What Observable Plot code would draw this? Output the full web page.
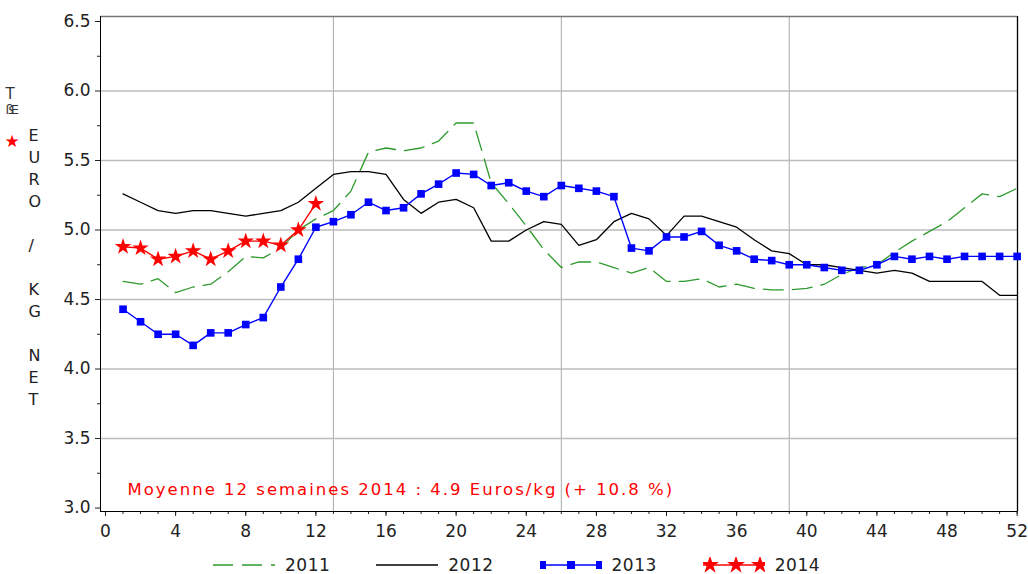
<!DOCTYPE html>
<html><head><meta charset="utf-8">
<script src="https://cdn.jsdelivr.net/npm/d3@7"></script>
<script src="https://cdn.jsdelivr.net/npm/@observablehq/plot@0.6"></script>
<style>
body{margin:0;background:#fff;font-family:"DejaVu Sans",sans-serif;}
#wrap{position:relative;width:1028px;height:574px;overflow:hidden;}
#legend{display:flex;align-items:center;height:29px;padding-top:5px;padding-left:213px;font-size:17px;color:#222;}
#legend .item{display:flex;align-items:center;margin-right:46px;}
#legend .lab{margin-left:10px;letter-spacing:0.5px;}
</style></head>
<body><div id="wrap"><div id="chart"></div><div id="legend"></div></div>
<script>
// ---- data ----
const weeks = [1,2,3,4,5,6,7,8,9,10,11,12,13,14,15,16,17,18,19,20,21,22,23,24,25,26,27,28,29,30,31,32,33,34,35,36,37,38,39,40,41,42,43,44,45,46,47,48,49,50,51,52];
const years = ["2011","2012","2013","2014"];
const v2011 = [4.63,4.61,4.65,4.55,4.59,4.61,4.70,4.81,4.80,4.87,5.00,5.08,5.14,5.28,5.56,5.59,5.57,5.59,5.64,5.77,5.77,5.34,5.19,5.03,4.86,4.73,4.77,4.77,4.73,4.69,4.73,4.63,4.63,4.65,4.59,4.61,4.58,4.57,4.57,4.58,4.61,4.68,4.73,4.75,4.84,4.92,4.99,5.06,5.16,5.26,5.24,5.30];
const v2012 = [5.26,5.20,5.14,5.12,5.14,5.14,5.12,5.10,5.12,5.14,5.20,5.30,5.40,5.42,5.42,5.40,5.22,5.12,5.20,5.22,5.16,4.92,4.92,5.00,5.06,5.04,4.89,4.93,5.06,5.12,5.08,4.96,5.10,5.10,5.06,5.02,4.93,4.85,4.83,4.75,4.75,4.73,4.71,4.69,4.71,4.69,4.63,4.63,4.63,4.63,4.53,4.53];
const v2013 = [4.43,4.34,4.25,4.25,4.17,4.26,4.26,4.32,4.37,4.59,4.79,5.02,5.06,5.11,5.20,5.14,5.16,5.26,5.33,5.41,5.40,5.32,5.34,5.28,5.24,5.32,5.30,5.28,5.24,4.87,4.85,4.95,4.95,4.99,4.89,4.85,4.79,4.78,4.75,4.75,4.73,4.71,4.71,4.75,4.81,4.79,4.81,4.79,4.81,4.81,4.81,4.81];
const v2014 = [4.88,4.87,4.79,4.81,4.85,4.79,4.85,4.92,4.92,4.89,5.00,5.19];
const xTicks = [0,4,8,12,16,20,24,28,32,36,40,44,48,52];
const xMinorTicks = [0,1,2,3,4,5,6,7,8,9,10,11,12,13,14,15,16,17,18,19,20,21,22,23,24,25,26,27,28,29,30,31,32,33,34,35,36,37,38,39,40,41,42,43,44,45,46,47,48,49,50,51,52];
const yTicks = [3.0,3.5,4.0,4.5,5.0,5.5,6.0,6.5];
const yMinorTicks = [3.25,3.75,4.25,4.75,5.25,5.75,6.25];
const xGrid = [13,26,39];
const yGrid = [3.5,4.0,4.5,5.0,5.5,6.0];
const yTitle = "E\nU\nR\nO\n \n/\n \nK\nG\n \nN\nE\nT";
const note = "Moyenne 12 semaines 2014 : 4.9 Euros/kg (+ 10.8 %)";

const colors = {"2011":"#2e9a2e","2012":"#000000","2013":"#0000ff","2014":"#ff0000"};
const toRows = (vals, year) => vals.map((v,i) => ({week: weeks[i], value: v, year}));
const r2011 = toRows(v2011,"2011"), r2012 = toRows(v2012,"2012"), r2013 = toRows(v2013,"2013"), r2014 = toRows(v2014,"2014");

const xDom = [-0.285, 52.02], yDom = [2.975, 6.536];

const chart = Plot.plot({
  width: 1028, height: 545,
  marginLeft: 100, marginRight: 11, marginTop: 16, marginBottom: 34,
  x: {domain: xDom},
  y: {domain: yDom},
  style: {fontFamily: "DejaVu Sans, sans-serif", fontSize: "17px", color: "#222", background: "#fff"},
  marks: [
    Plot.gridX(xGrid, {stroke: "#aaa", strokeOpacity: 1, strokeWidth: 1}),
    Plot.gridY(yGrid, {stroke: "#bbb", strokeOpacity: 1, strokeWidth: 1.4}),
    Plot.axisY(yMinorTicks, {tickSize: 3, tickFormat: () => "", label: null, stroke: "#222"}),
    Plot.axisY(yTicks, {tickSize: 5, tickPadding: 5, tickFormat: d => d.toFixed(1), label: null, stroke: "#222", fill: "#222"}),
    Plot.axisX(xMinorTicks, {tickSize: 3, tickFormat: () => "", label: null, stroke: "#222"}),
    Plot.axisX(xTicks, {tickSize: 5, tickPadding: 8, label: null, stroke: "#222", fill: "#222"}),
    Plot.ruleY([yDom[1]], {stroke: "#777", strokeWidth: 1.5}),
    Plot.ruleX([xDom[0]], {stroke: "#000"}),
    Plot.ruleX([xDom[1]], {stroke: "#000", strokeWidth: 1.3}),
    Plot.ruleY([yDom[0]], {stroke: "#000"}),
    Plot.line(r2011, {x: "week", y: "value", stroke: colors["2011"], strokeWidth: 1.3, strokeDasharray: "20,9"}),
    Plot.line(r2012, {x: "week", y: "value", stroke: colors["2012"], strokeWidth: 1.3}),
    Plot.line(r2013, {x: "week", y: "value", stroke: colors["2013"], strokeWidth: 1.4}),
    Plot.dot(r2013, {x: "week", y: "value", symbol: "square", fill: colors["2013"], r: 4.3}),
    Plot.line(r2014, {x: "week", y: "value", stroke: colors["2014"], strokeWidth: 1.4}),
    Plot.dot(r2014, {x: "week", y: "value", symbol: "star", fill: colors["2014"], r: 5.2}),
    Plot.text([note], {frameAnchor: "bottom-left", textAnchor: "start", dx: 27, dy: -17, fill: "#ff0000", fontSize: 16.5}),
    Plot.text([yTitle], {frameAnchor: "left", dx: -72, dy: 1.5, fontSize: 16, lineHeight: 1.375, fill: "#222"}),
    Plot.text(["T"], {frameAnchor: "top-left", dx: -95, dy: 72, fontSize: 15, fill: "#333"}),
    Plot.text(["ßE"], {frameAnchor: "top-left", dx: -95, dy: 88, fontSize: 13, fill: "#333"}),
    Plot.text(["★"], {frameAnchor: "top-left", dx: -96, dy: 118, fontSize: 17, fill: "#ff0000"})
  ]
});
document.getElementById("chart").appendChild(chart);
chart.querySelectorAll("text").forEach(t => {
  if (t.textContent === note) t.setAttribute("letter-spacing", "2");
  if (t.textContent === "ßE") t.setAttribute("letter-spacing", "-3");
});

// legend
const legend = d3.select("#legend");
years.forEach(y => {
  const it = legend.append("div").attr("class", "item");
  const svg = it.append("svg").attr("width", 62).attr("height", 16);
  const c = colors[y];
  const ln = svg.append("line").attr("x1", 0).attr("x2", 62).attr("y1", 8).attr("y2", 8).attr("stroke", c).attr("stroke-width", 1.4);
  if (y === "2011") ln.attr("stroke-dasharray", "20,9");
  if (y === "2013") [2, 31, 60].forEach(px => svg.append("rect").attr("x", px - 4).attr("y", 4).attr("width", 8).attr("height", 8).attr("fill", c));
  if (y === "2014") [7, 33, 57].forEach(px => svg.append("path").attr("transform", `translate(${px},8)`).attr("d", d3.symbol(d3.symbolStar, 100)()).attr("fill", c));
  it.append("span").attr("class", "lab").text(y);
});
</script></body></html>
